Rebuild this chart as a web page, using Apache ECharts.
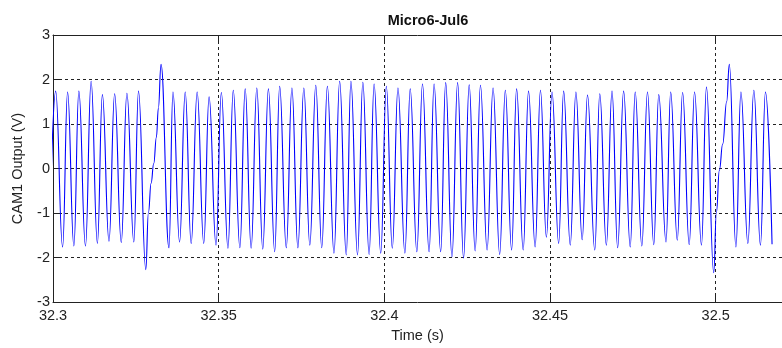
<!DOCTYPE html>
<html>
<head>
<meta charset="utf-8">
<script src="https://cdn.jsdelivr.net/npm/echarts@6/dist/echarts.min.js"></script>
<style>
html,body{margin:0;padding:0;background:#fff;}
#c{width:782px;height:348px;}
</style>
</head>
<body>
<div id="c"></div>
<script>
// Time (s) of each turning point
const times = [
32.2989,32.3008,32.3029,32.3044,32.3063,32.3078,32.3098,32.3115,32.3134,32.3149,
32.3169,32.3186,32.3206,32.3223,32.3244,32.3258,32.3280,32.3288,32.3296,32.3304,
32.3312,32.3318,32.3326,32.3350,32.3362,32.3382,32.3399,32.3417,32.3435,32.3455,
32.3471,32.3492,32.3508,32.3528,32.3544,32.3564,32.3580,32.3598,32.3615,32.3633,
32.3650,32.3669,32.3684,32.3704,32.3721,32.3739,32.3757,32.3775,32.3793,32.3811,
32.3828,32.3848,32.3865,32.3885,32.3899,32.3919,32.3935,32.3954,32.3969,32.3989,
32.4006,32.4024,32.4041,32.4062,32.4078,32.4098,32.4115,32.4135,32.4150,32.4170,
32.4185,32.4204,32.4221,32.4239,32.4256,32.4274,32.4290,32.4310,32.4328,32.4348,
32.4365,32.4384,32.4399,32.4419,32.4435,32.4455,32.4471,32.4489,32.4506,32.4526,
32.4541,32.4561,32.4578,32.4597,32.4613,32.4635,32.4650,32.4670,32.4687,32.4704,
32.4722,32.4742,32.4757,32.4777,32.4794,32.4813,32.4828,32.4850,32.4864,32.4884,
32.4900,32.4920,32.4936,32.4957,32.4972,32.4994,32.5002,32.5011,32.5021,32.5033,
32.5041,32.5061,32.5076,32.5097,32.5115,32.5135,32.5150,32.5170
];
// CAM1 Output (V) at those points
const volts = [
-1.70,1.74,-1.76,1.72,-1.74,1.74,-1.74,1.96,-1.68,1.66,
-1.63,1.68,-1.66,1.69,-1.65,1.74,-2.27,-0.99,-0.33,0.11,
0.70,1.36,2.34,-1.78,1.72,-1.65,1.72,-1.68,1.72,-1.68,
1.61,-1.72,1.71,-1.79,1.76,-1.78,1.79,-1.79,1.81,-1.81,
1.79,-1.87,1.85,-1.78,1.81,-1.78,1.81,-1.72,1.87,-1.78,
1.85,-1.90,1.96,-1.94,1.96,-1.94,1.94,-1.93,1.90,-1.90,
1.85,-1.79,1.81,-1.90,1.79,-1.87,1.90,-1.87,1.90,-1.87,
1.93,-1.98,1.93,-2.01,1.88,-1.85,1.87,-1.83,1.81,-1.93,
1.76,-1.83,1.79,-1.83,1.74,-1.76,1.76,-1.54,1.72,-1.68,
1.74,-1.72,1.72,-1.60,1.65,-1.83,1.68,-1.72,1.74,-1.78,
1.74,-1.76,1.72,-1.74,1.72,-1.71,1.66,-1.65,1.72,-1.61,
1.71,-1.71,1.72,-1.72,1.83,-2.34,-0.99,-0.04,0.55,1.50,
2.34,-1.76,1.72,-1.68,1.76,-1.72,1.72,-1.70
];
const xTicks = [32.3, 32.35, 32.4, 32.45, 32.5];
const yTicks = [-3, -2, -1, 0, 1, 2, 3];

const chart = echarts.init(document.getElementById('c'), null, {renderer: 'canvas'});
const font = 'Liberation Sans, Arial, sans-serif';
const xMin = xTicks[0], xMax = 32.52;
const dashed = {show: true, lineStyle: {color: '#222', width: 1, type: [3, 3]}};
chart.setOption({
  animation: false,
  backgroundColor: '#fff',
  title: {
    text: 'Micro6-Jul6', left: 423, top: 8, textAlign: 'center',
    textStyle: {fontFamily: font, fontSize: 14.5, fontWeight: 'bold', color: '#111'}
  },
  grid: {left: 53, top: 35, width: 740.5, height: 272, containLabel: false},
  xAxis: [{
    type: 'value', min: xMin, max: xMax, interval: 0.05, position: 'bottom',
    name: 'Time (s)', nameLocation: 'middle', nameGap: 25,
    nameTextStyle: {fontFamily: font, fontSize: 14.5, color: '#222'},
    axisLine: {show: true, onZero: false, lineStyle: {color: '#222', width: 1}},
    axisTick: {show: true, inside: true, length: 7, lineStyle: {color: '#222'}},
    axisLabel: {fontFamily: font, fontSize: 14.5, color: '#222', margin: 6, showMaxLabel: false,
      formatter: v => xTicks.some(t => Math.abs(t - v) < 1e-6) ? String(+v.toFixed(2)) : ''},
    splitLine: dashed
  }, {
    type: 'value', min: xMin, max: xMax, interval: 0.05, position: 'top',
    axisLine: {show: true, onZero: false, lineStyle: {color: '#222', width: 1}},
    axisTick: {show: true, inside: true, length: 7, lineStyle: {color: '#222'}},
    axisLabel: {show: false}, splitLine: {show: false}
  }],
  yAxis: {
    type: 'value', min: yTicks[0], max: yTicks[yTicks.length - 1], interval: 1,
    name: 'CAM1 Output (V)', nameLocation: 'middle', nameGap: 28, nameRotate: 90,
    nameTextStyle: {fontFamily: font, fontSize: 14.5, color: '#222'},
    axisLine: {show: true, onZero: false, lineStyle: {color: '#222', width: 1}},
    axisTick: {show: true, inside: true, length: 7, lineStyle: {color: '#222'}},
    axisLabel: {fontFamily: font, fontSize: 14.5, color: '#222', margin: 3},
    splitLine: dashed
  },
  series: [{
    type: 'line', xAxisIndex: 0,
    data: times.map((t, i) => [t, volts[i]]),
    showSymbol: false, symbol: 'none', clip: true,
    smooth: 0.45, smoothMonotone: 'x',
    lineStyle: {color: '#0000ff', width: 1.1},
    z: 3
  }]
});
</script>
</body>
</html>
